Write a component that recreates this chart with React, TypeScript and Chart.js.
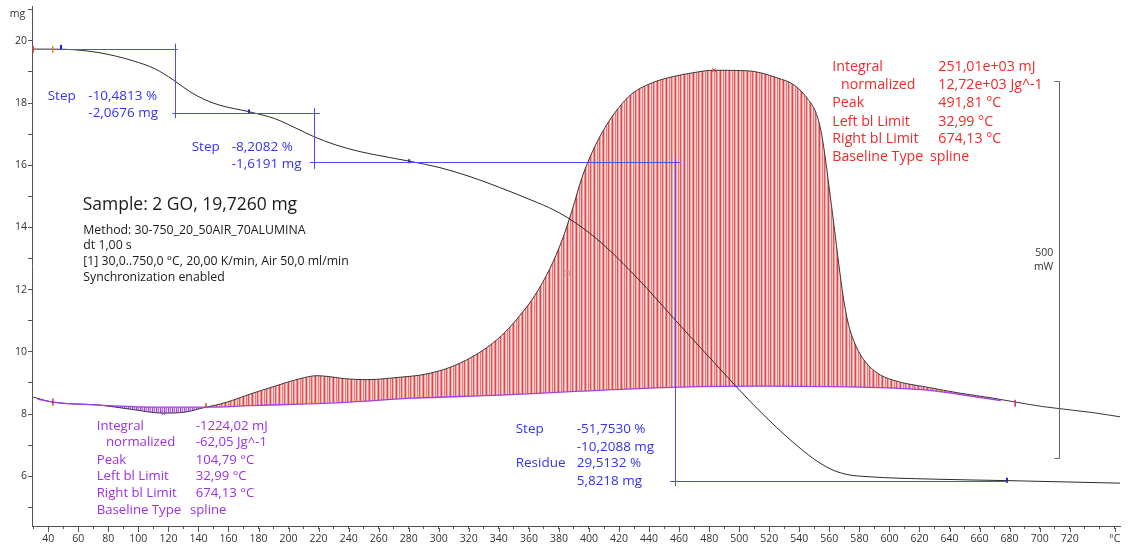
import React, { useEffect, useRef } from 'react';
import { Chart, registerables } from 'chart.js';

Chart.register(...registerables);

const FONT = '"Open Sans", "DejaVu Sans", sans-serif';

// ---- axis ranges ----
const T_MIN = 29.2;
const T_MAX = 753.5;
const MG_MIN = 4.4;
const MG_MAX = 21.12;
const MW_MIN = -167;
const MW_MAX = 523;

// ---- tick labels ----
const X_TICK_LABELS = [40, 60, 80, 100, 120, 140, 160, 180, 200, 220, 240, 260, 280, 300, 320, 340, 360, 380, 400, 420, 440, 460, 480, 500, 520, 540, 560, 580, 600, 620, 640, 660, 680, 700, 720];
const X_UNIT_TICK = 750;
const X_UNIT = '°C';
const Y_TICKS = [5, 6, 7, 8, 9, 10, 11, 12, 13, 14, 15, 16, 17, 18, 19, 20, 21];
const Y_TICK_LABELS = [6, 8, 10, 12, 14, 16, 18, 20];
const Y_UNIT = 'mg';

// ---- TG curve (mass, mg) ----
const TG_T = [30, 51.1, 74.4, 96.4, 111.0, 123.1, 134.4, 144.3, 154.3, 173.6, 190.9, 204.3, 216.9, 230.9, 247.6, 264.2, 280.2, 300.8, 320.8, 340.8, 360.7, 377.4, 390.7, 404.0, 417.3, 438.6, 460.6, 483.2, 505.9, 519.2, 530.5, 540.5, 551.8, 562.5, 572.4, 585.1, 629.0, 678.3, 753.5];
const TG_MG = [19.734, 19.727, 19.615, 19.358, 19.101, 18.748, 18.363, 18.106, 17.929, 17.721, 17.496, 17.207, 16.918, 16.661, 16.437, 16.276, 16.132, 15.923, 15.634, 15.281, 14.896, 14.543, 14.157, 13.676, 13.098, 12.039, 10.851, 9.663, 8.475, 7.833, 7.319, 6.902, 6.485, 6.196, 6.051, 5.987, 5.907, 5.859, 5.778];

// ---- DSC curve (mW) ----
const DSC_T = [30, 43.1, 74.4, 94.4, 116.4, 131.0, 145.0, 154.3, 163.0, 174.3, 190.9, 207.6, 218.9, 227.5, 237.5, 252.2, 264.2, 274.2, 287.5, 300.8, 314.1, 324.1, 334.1, 344.1, 354.1, 364.0, 374.0, 382.0, 388.7, 395.3, 402.6, 410.6, 419.3, 428.6, 440.6, 453.9, 469.2, 482.5, 505.1, 525.1, 537.1, 545.7, 551.1, 554.4, 557.1, 559.7, 563.1, 566.4, 569.1, 572.4, 576.4, 581.8, 591.1, 602.4, 625.0, 647.0, 669.0, 682.3, 702.3, 735.5, 753.5];
const DSC_MW = [3.97, -2.65, -6.62, -11.92, -17.22, -15.89, -9.27, -5.3, 0, 7.95, 18.54, 28.47, 32.45, 31.12, 28.47, 27.15, 28.47, 30.46, 33.11, 39.07, 49.0, 59.6, 72.8, 90.1, 112.6, 139.1, 174.8, 211.9, 251.6, 295.3, 331.1, 361.6, 386.8, 406.6, 419.9, 428.4, 434.4, 437.7, 437.1, 427.8, 417.3, 399.4, 381.4, 357.6, 324.5, 284.8, 231.8, 178.8, 139.1, 103.3, 78.1, 56.9, 37.1, 26.5, 17.2, 9.27, 2.65, -1.99, -8.61, -16.56, -22.1];

// ---- DSC spline baseline (mW) ----
const BASE_T = [32.99, 43.1, 74.4, 114.4, 145.0, 174.3, 207.6, 240.9, 282.9, 340.9, 394.0, 460.6, 513.8, 580.4, 625.0, 658.3, 674.13];
const BASE_MW = [1.3, -2.6, -6.6, -9.3, -9.3, -7.3, -5.3, -2.6, 2.6, 6.6, 11.9, 17.2, 18.5, 17.2, 13.2, 4.0, -0.7];

// ---- markers ----
const TG_MARK_T = [30, 43.0, 48.5, 173.6, 280.3, 678.3];
const TG_MARK_MG = [19.73, 19.73, 19.79, 17.73, 16.13, 5.87];
const DSC_MARK_T = [43.1, 145.0, 116.6, 483.2, 385.3, 683.7];
const DSC_MARK_MW = [-2.6, -7.5, -17.6, 438, 168.6, -4];

// ---- step evaluation construction lines [T1, mg1, T2, mg2] ----
const STEP_LINES = [
  [48, 19.73, 126.4, 19.73],
  [124.4, 19.91, 124.4, 17.51],
  [122.6, 17.67, 220.9, 17.67],
  [216.9, 17.84, 216.9, 15.88],
  [214.2, 16.09, 460.6, 16.09],
  [457.2, 16.2, 457.2, 5.68],
  [453.9, 5.85, 678.3, 5.85],
];

// ---- DSC scale bar ----
const SCALE_BAR_T = 712.9;
const SCALE_BAR_LOW = -76.4;
const SCALE_BAR_MW = 500;
const SCALE_BAR_TEXT = ['500', 'mW'];

// ---- texts ----
const STEP1_TEXT = ['Step', '-10,4813 %', '-2,0676 mg'];
const STEP2_TEXT = ['Step', '-8,2082 %', '-1,6191 mg'];
const STEP3_TEXT = ['Step', '-51,7530 %', '-10,2088 mg', 'Residue', '29,5132 %', '5,8218 mg'];
const PEAK_LABELS = ['Integral', 'normalized', 'Peak', 'Left bl Limit', 'Right bl Limit', 'Baseline Type'];
const EXO_VALUES = ['251,01e+03 mJ', '12,72e+03 Jg^-1', '491,81 °C', '32,99 °C', '674,13 °C', 'spline'];
const ENDO_VALUES = ['-1224,02 mJ', '-62,05 Jg^-1', '104,79 °C', '32,99 °C', '674,13 °C', 'spline'];
const SAMPLE_TITLE = 'Sample: 2 GO, 19,7260 mg';
const METHOD_LINES = ['Method: 30-750_20_50AIR_70ALUMINA', 'dt 1,00 s', '[1] 30,0..750,0 °C, 20,00 K/min, Air 50,0 ml/min', 'Synchronization enabled'];

const BLUE = '#3434ee';
const RED = '#f02a2a';
const PURPLE = '#9c32e4';

function stripes(cols: string[]) {
  const c = document.createElement('canvas');
  c.width = cols.length;
  c.height = 1;
  const g = c.getContext('2d')!;
  cols.forEach((col, i) => {
    g.fillStyle = col;
    g.fillRect(i, 0, 1, 1);
  });
  return g.createPattern(c, 'repeat')!;
}

function txt(ctx: CanvasRenderingContext2D, s: string, x: number, y: number, size: number, color: string, align: CanvasTextAlign = 'left') {
  ctx.font = `${size}px ${FONT}`;
  ctx.fillStyle = color;
  ctx.textAlign = align;
  ctx.textBaseline = 'middle';
  ctx.fillText(s, x, y);
}

const annotations = {
  id: 'annotations',
  afterDatasetsDraw(chart: any) {
    const { ctx } = chart;
    const xs = chart.scales.x;
    const ys = chart.scales.y;
    const y2 = chart.scales.y2;
    ctx.save();
    ctx.strokeStyle = '#4c4cff';
    ctx.lineWidth = 1;
    STEP_LINES.forEach(([t1, m1, t2, m2]) => {
      const x1 = xs.getPixelForValue(t1);
      const x2 = xs.getPixelForValue(t2);
      const yA = ys.getPixelForValue(m1);
      const yB = ys.getPixelForValue(m2);
      ctx.beginPath();
      if (Math.abs(x1 - x2) < 0.5) {
        const xx = Math.round(x1) + 0.5;
        ctx.moveTo(xx, yA);
        ctx.lineTo(xx, yB);
      } else {
        const yy = Math.round(yA) + 0.5;
        ctx.moveTo(x1, yy);
        ctx.lineTo(x2, yy);
      }
      ctx.stroke();
    });
    // scale bar
    const bx = Math.round(xs.getPixelForValue(SCALE_BAR_T)) + 0.5;
    const bTop = Math.round(y2.getPixelForValue(SCALE_BAR_LOW + SCALE_BAR_MW)) + 0.5;
    const bBot = Math.round(y2.getPixelForValue(SCALE_BAR_LOW)) + 0.5;
    ctx.strokeStyle = '#666';
    ctx.beginPath();
    ctx.moveTo(bx - 5, bTop);
    ctx.lineTo(bx, bTop);
    ctx.lineTo(bx, bBot);
    ctx.lineTo(bx - 5, bBot);
    ctx.stroke();
    ctx.restore();
  },
  afterDraw(chart: any) {
    const { ctx } = chart;
    const xs = chart.scales.x;
    ctx.save();
    // longer marks for labelled temperature ticks
    ctx.strokeStyle = '#555';
    ctx.lineWidth = 1;
    const base = chart.chartArea.bottom;
    [...X_TICK_LABELS, X_UNIT_TICK].forEach((v) => {
      const px = Math.round(xs.getPixelForValue(v)) + 0.5;
      ctx.beginPath();
      ctx.moveTo(px, base + 2);
      ctx.lineTo(px, base + 6);
      ctx.stroke();
    });
    // unit of y axis
    txt(ctx, Y_UNIT, 17.5, 14, 10.5, '#333', 'center');
    // step texts
    const bs = 13.5;
    txt(ctx, STEP1_TEXT[0], 47.7, 96, bs, BLUE);
    txt(ctx, STEP1_TEXT[1], 88.3, 96, bs, BLUE);
    txt(ctx, STEP1_TEXT[2], 88.3, 112.7, bs, BLUE);
    txt(ctx, STEP2_TEXT[0], 191.7, 147.3, bs, BLUE);
    txt(ctx, STEP2_TEXT[1], 231.7, 147.3, bs, BLUE);
    txt(ctx, STEP2_TEXT[2], 231.7, 164, bs, BLUE);
    txt(ctx, STEP3_TEXT[0], 515.7, 429.3, bs, BLUE);
    txt(ctx, STEP3_TEXT[1], 576.7, 429.3, bs, BLUE);
    txt(ctx, STEP3_TEXT[2], 576.7, 446.7, bs, BLUE);
    txt(ctx, STEP3_TEXT[3], 515.7, 463.3, bs, BLUE);
    txt(ctx, STEP3_TEXT[4], 576.7, 463.3, bs, BLUE);
    txt(ctx, STEP3_TEXT[5], 576.7, 481, bs, BLUE);
    // exothermic peak block (red)
    const redRows = [67.3, 85, 103.3, 121.7, 139.3, 157.3];
    PEAK_LABELS.forEach((s, i) => {
      txt(ctx, s, i === 1 ? 841 : 832.3, redRows[i], 14.2, RED);
      txt(ctx, EXO_VALUES[i], i === 5 ? 930 : 938.3, redRows[i], 14.2, RED);
    });
    // endothermic block (purple)
    const purRows = [426.7, 442.7, 460, 476.7, 493.3, 510];
    PEAK_LABELS.forEach((s, i) => {
      txt(ctx, s, i === 1 ? 106 : 96.7, purRows[i], 13.2, PURPLE);
      txt(ctx, ENDO_VALUES[i], i === 5 ? 190 : 195.7, purRows[i], 13.2, PURPLE);
    });
    // sample info
    txt(ctx, SAMPLE_TITLE, 82.7, 205, 17.5, '#1a1a1a');
    const mRows = [230, 245.5, 261.7, 277.3];
    METHOD_LINES.forEach((s, i) => txt(ctx, s, 83.3, mRows[i], 12.3, '#1a1a1a'));
    // scale bar text
    txt(ctx, SCALE_BAR_TEXT[0], 1053.3, 253.3, 10.5, '#333', 'right');
    txt(ctx, SCALE_BAR_TEXT[1], 1053.3, 267.3, 10.5, '#333', 'right');
    ctx.restore();
  },
};

export default function App() {
  const ref = useRef<HTMLCanvasElement>(null);
  useEffect(() => {
    const canvas = ref.current!;
    const redPattern = stripes(['#e04848', '#f4b0b0', '#fbdcdc', '#ea7a7a', '#f7c4c4', '#e35858', '#f2a4a4', '#fce4e4', '#ee8e8e']);
    const purplePattern = stripes(['#a448e2', '#dcb8f5', '#b870ea', '#efe0fb']);
    const pts = (xs: number[], ys: number[]) => xs.map((x, i) => ({ x, y: ys[i] }));

    const chart = new Chart(canvas, {
      type: 'line',
      data: {
        datasets: [
          {
            type: 'scatter',
            data: pts(TG_MARK_T, TG_MARK_MG),
            yAxisID: 'y',
            showLine: false,
            pointStyle: 'line',
            pointRotation: 90,
            pointRadius: [3.5, 3.5, 2.5, 2, 2, 2.5],
            pointBorderWidth: [1.5, 1.5, 2, 2, 2, 2],
            pointBorderColor: ['#e04040', '#e08040', '#2020d0', '#2020d0', '#2020d0', '#2020d0'],
            pointBackgroundColor: 'transparent',
          } as any,
          {
            type: 'scatter',
            data: pts(DSC_MARK_T, DSC_MARK_MW),
            yAxisID: 'y2',
            showLine: false,
            pointStyle: ['line', 'line', 'crossRot', 'crossRot', 'circle', 'line'],
            pointRotation: [90, 90, 0, 0, 0, 90],
            pointRadius: [3.5, 2.5, 2.5, 2.5, 3, 3.5],
            pointBorderWidth: [1.5, 1.5, 1, 1, 1, 1.5],
            pointBorderColor: ['#c0307a', '#d04040', '#9a40e0', '#e03030', '#c89090', '#c0307a'],
            pointBackgroundColor: 'transparent',
          } as any,
          {
            data: pts(TG_T, TG_MG),
            yAxisID: 'y',
            borderColor: '#2a2a2a',
            borderWidth: 1,
            pointRadius: 0,
            cubicInterpolationMode: 'monotone',
            fill: false,
          },
          {
            data: pts(BASE_T, BASE_MW),
            yAxisID: 'y2',
            borderColor: '#a63ee8',
            borderWidth: 1.3,
            pointRadius: 0,
            cubicInterpolationMode: 'monotone',
            fill: false,
          },
          {
            data: pts(DSC_T, DSC_MW),
            yAxisID: 'y2',
            borderColor: '#383838',
            borderWidth: 1,
            pointRadius: 0,
            cubicInterpolationMode: 'monotone',
            fill: { target: 3, above: redPattern, below: purplePattern },
          } as any,
        ],
      },
      options: {
        responsive: false,
        animation: false,
        events: [],
        layout: { padding: { top: 5, right: 8, left: 0, bottom: 0 } },
        plugins: { legend: { display: false }, tooltip: { enabled: false } },
        scales: {
          x: {
            type: 'linear',
            min: T_MIN,
            max: T_MAX,
            afterBuildTicks: (s: any) => {
              const t: any[] = [];
              for (let v = 30; v <= 750; v += 10) t.push({ value: v });
              s.ticks = t;
            },
            afterFit: (s: any) => {
              s.height = 23;
              s.paddingLeft = 0;
              s.paddingRight = 0;
            },
            border: { display: true, color: '#555', width: 1 },
            grid: { drawOnChartArea: false, drawTicks: true, tickLength: 3, tickColor: '#555' },
            ticks: {
              autoSkip: false,
              maxRotation: 0,
              minRotation: 0,
              padding: 4,
              color: '#333',
              font: { family: FONT, size: 10.5 },
              callback: (v: any) => (v === X_UNIT_TICK ? X_UNIT : X_TICK_LABELS.includes(v) ? String(v) : ''),
            },
          },
          y: {
            type: 'linear',
            position: 'left',
            min: MG_MIN,
            max: MG_MAX,
            afterBuildTicks: (s: any) => {
              s.ticks = Y_TICKS.map((v) => ({ value: v }));
            },
            afterFit: (s: any) => {
              s.width = 32;
              s.paddingTop = 0;
              s.paddingBottom = 0;
            },
            border: { display: true, color: '#555', width: 1 },
            grid: { drawOnChartArea: false, drawTicks: true, tickLength: 4, tickColor: '#555' },
            ticks: {
              autoSkip: false,
              padding: 1,
              color: '#333',
              font: { family: FONT, size: 10.5 },
              callback: (v: any) => (Y_TICK_LABELS.includes(v) ? String(v) : ''),
            },
          },
          y2: {
            type: 'linear',
            display: false,
            min: MW_MIN,
            max: MW_MAX,
          },
        },
      } as any,
      plugins: [annotations],
    });

    const fonts = (document as any).fonts;
    if (fonts && fonts.load) {
      Promise.all([fonts.load(`14px ${FONT}`)]).then(() => chart.update()).catch(() => {});
    }
    return () => chart.destroy();
  }, []);

  return (
    <div style={{ position: 'fixed', left: 0, top: 0, width: 1128, height: 549, background: '#fff' }}>
      <canvas ref={ref} width={1128} height={549} style={{ display: 'block', width: 1128, height: 549 }} />
    </div>
  );
}
